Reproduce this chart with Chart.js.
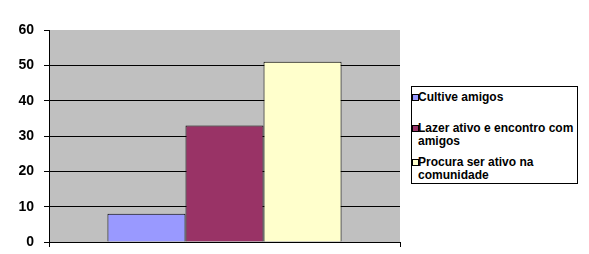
<!DOCTYPE html>
<html>
<head>
<meta charset="utf-8">
<script src="https://cdn.jsdelivr.net/npm/chart.js@4/dist/chart.umd.min.js"></script>
<style>
  html, body { margin: 0; padding: 0; background: #fff; }
  #wrap { position: relative; width: 589px; height: 254px; }
  #myChart { position: absolute; left: 0; top: 0; }
  #legend {
    position: absolute; left: 411px; top: 86px; width: 165px; height: 96px;
    border: 1px solid #000; background: #fff;
    font: bold 12px "Liberation Sans", Arial, sans-serif; color: #000;
  }
  .item { position: absolute; left: 6px; width: 160px; line-height: 13px; white-space: nowrap; }
  .sw { position: absolute; left: -6px; top: 3px; width: 5px; height: 5px; border: 1px solid #000; }
</style>
</head>
<body>
<div id="wrap">
  <canvas id="myChart" width="589" height="254"></canvas>
  <div id="legend"></div>
</div>
<script>
var categories = [""];
var seriesNames = ["Cultive amigos", "Lazer ativo e encontro com amigos", "Procura ser ativo na comunidade"];
var legendLines = [["Cultive amigos"], ["Lazer ativo e encontro com", "amigos"], ["Procura ser ativo na", "comunidade"]];
var seriesValues = [[8], [33], [51]];
var seriesColors = ["#9999FF", "#993366", "#FFFFCC"];
var yTicks = [0, 10, 20, 30, 40, 50, 60];

var plotBg = {
  id: "plotBg",
  beforeDraw: function(chart) {
    var a = chart.chartArea, c = chart.ctx;
    c.save();
    c.fillStyle = "#C0C0C0";
    c.fillRect(a.left, a.top, a.right - a.left, a.bottom - a.top);
    c.restore();
  }
};

var datasets = [];
for (var i = 0; i < seriesNames.length; i++) {
  datasets.push({
    label: seriesNames[i],
    data: seriesValues[i],
    backgroundColor: seriesColors[i],
    borderColor: "#000",
    borderWidth: 1,
    categoryPercentage: 0.667,
    barPercentage: 1
  });
}

var ctx = document.getElementById("myChart").getContext("2d");
var myChart = new Chart(ctx, {
  type: "bar",
  data: { labels: categories, datasets: datasets },
  options: {
    responsive: false,
    animation: false,
    layout: { padding: { top: 30, right: 189, bottom: 0, left: 0 } },
    plugins: { legend: { display: false }, tooltip: { enabled: false } },
    scales: {
      x: {
        offset: true,
        afterFit: function(s) { s.height = 12; s.paddingLeft = 0; s.paddingRight = 0; },
        grid: { drawOnChartArea: false, color: "#000", tickLength: 5, offset: true },
        border: { color: "#000", width: 1 },
        ticks: { display: false }
      },
      y: {
        min: yTicks[0],
        max: yTicks[yTicks.length - 1],
        afterFit: function(s) { s.width = 49; s.paddingTop = 0; s.paddingBottom = 0; },
        afterBuildTicks: function(s) { s.ticks = yTicks.map(function(v) { return { value: v }; }); },
        grid: {
          color: function(c) { return c.tick && c.tick.value === 60 ? "rgba(0,0,0,0)" : "#000"; },
          tickColor: "#000",
          tickLength: 5,
          lineWidth: 1
        },
        border: { color: "#000", width: 1 },
        ticks: {
          padding: 10,
          color: "#000",
          font: { family: "'Liberation Sans', Arial, sans-serif", size: 14, weight: "bold" }
        }
      }
    }
  },
  plugins: [plotBg]
});

// legend in the bordered box on the right
var tops = [4, 35, 69];
var lg = document.getElementById("legend");
legendLines.forEach(function(lines, i) {
  var d = document.createElement("div");
  d.className = "item";
  d.style.top = tops[i] + "px";
  d.innerHTML = '<span class="sw" style="background:' + seriesColors[i] + '"></span>' + lines.join("<br>");
  lg.appendChild(d);
});
</script>
</body>
</html>
